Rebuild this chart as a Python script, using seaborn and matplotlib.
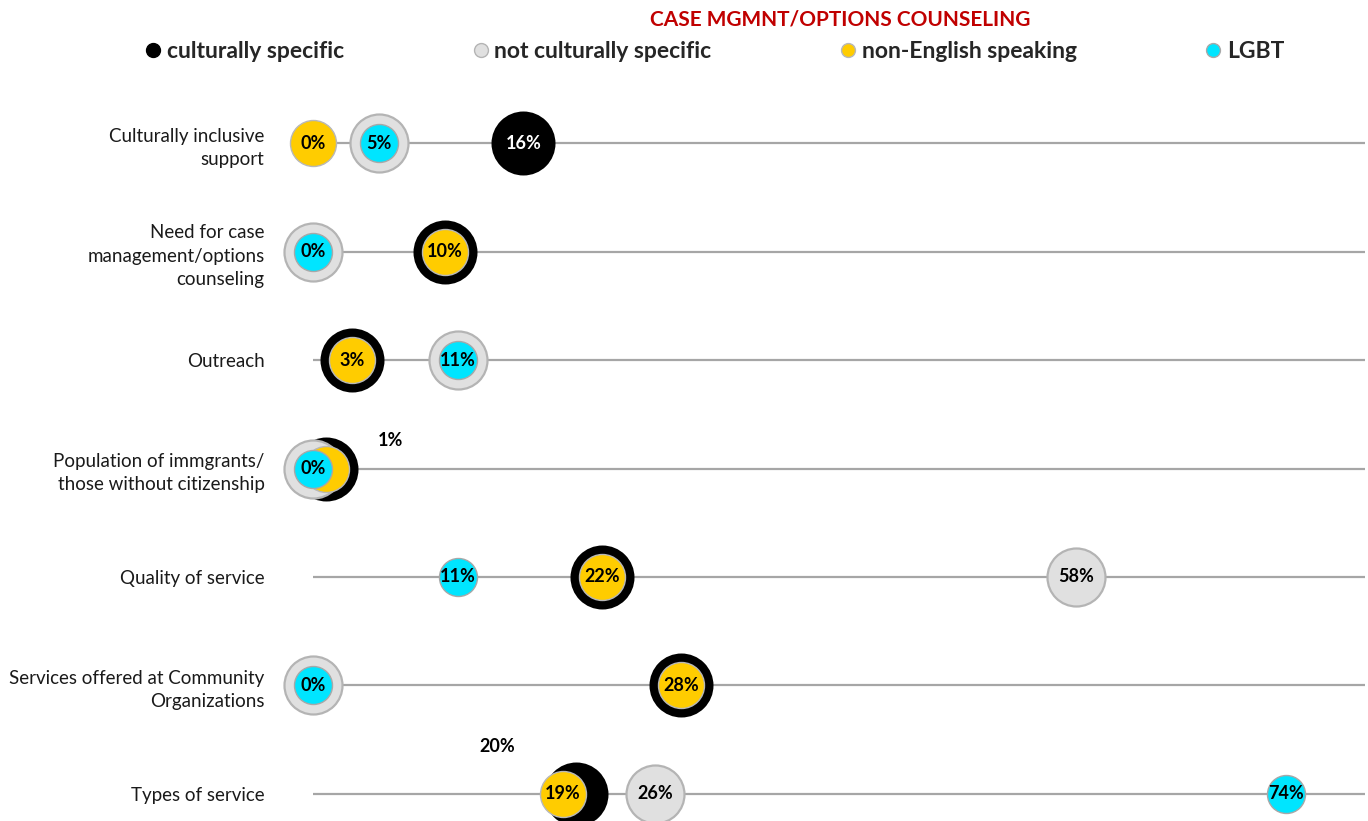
import matplotlib
matplotlib.use("Agg")
import matplotlib.pyplot as plt
import seaborn as sns
import pandas as pd
from matplotlib.lines import Line2D

sns.set_theme(style="white")
plt.rcParams['font.family'] = ['Lato', 'DejaVu Sans']

categories = [
    "Culturally inclusive\nsupport",
    "Need for case\nmanagement/options\ncounseling",
    "Outreach",
    "Population of immgrants/\nthose without citizenship",
    "Quality of service",
    "Services offered at Community\nOrganizations",
    "Types of service",
]
culturally_specific = [16, 10, 3, 1, 22, 28, 20]
not_culturally_specific = [5, 0, 11, 0, 58, 0, 26]
non_english = [0, 10, 3, 1, 22, 28, 19]
lgbt = [5, 0, 11, 0, 11, 0, 74]
series_names = ["culturally specific", "not culturally specific", "non-English speaking", "LGBT"]
title = "CASE MGMNT/OPTIONS COUNSELING"

# styles (draw order = series order)
styles = {
    "culturally specific": dict(color="#000000", edge="#000000", s=2123, lw=0.0, txt="white"),
    "not culturally specific": dict(color="#E0E0E0", edge="#B4B4B4", s=1744, lw=1.6, txt="black"),
    "non-English speaking": dict(color="#FFCC00", edge="#B8B8B8", s=1097, lw=1.0, txt="black"),
    "LGBT": dict(color="#00E5FF", edge="#A8A8A8", s=749, lw=1.0, txt="black"),
}
values = {
    "culturally specific": culturally_specific,
    "not culturally specific": not_culturally_specific,
    "non-English speaking": non_english,
    "LGBT": lgbt,
}
# labels placed outside the bubble (offset in points): (series, row) -> (dx, dy)
outside_labels = {("culturally specific", 3): (46, 20), ("culturally specific", 6): (-57, 34)}

W, H = 1368, 821
fig = plt.figure(figsize=(W / 100, H / 100), dpi=100)
ax = fig.add_axes([313 / W, 0, 1052 / W, 732 / H])
ax.set_xlim(0, 80)
ax.set_ylim(6.249, -0.498)

rows = list(range(len(categories)))
ax.hlines(rows, 0, 80, color="#A6A6A6", lw=1.6, zorder=1)

for i, name in enumerate(series_names):
    st = styles[name]
    df = pd.DataFrame({"x": values[name], "y": rows})
    sns.scatterplot(data=df, x="x", y="y", ax=ax, s=st["s"], color=st["color"],
                    edgecolor=st["edge"], linewidth=st["lw"], clip_on=False,
                    zorder=2 + i, legend=False)

# value labels
for i, name in enumerate(series_names):
    st = styles[name]
    for r in rows:
        v = values[name][r]
        key = (name, r)
        if key in outside_labels:
            dx, dy = outside_labels[key]
            ax.annotate(f"{v}%", (v, r), xytext=(dx, dy), textcoords="offset points",
                        ha="center", va="center", fontsize=13, fontweight="bold",
                        color="black", zorder=20, annotation_clip=False)
            continue
        hidden = any(abs(values[n2][r] - v) < 2 for n2 in series_names[i + 1:])
        if hidden:
            continue
        ax.text(v, r, f"{v}%", ha="center", va="center", fontsize=13,
                fontweight="bold", color=st["txt"], zorder=20, clip_on=False)

ax.set_yticks(rows)
ax.set_yticklabels(categories, fontsize=13.5, color="#1a1a1a", linespacing=1.45)
ax.tick_params(axis="y", length=0, pad=35)
ax.set_xticks([])
ax.set_xlabel("")
ax.set_ylabel("")
for sp in ax.spines.values():
    sp.set_visible(False)

fig.text(840 / W, 1 - 20 / H, title, ha="center", va="center", fontsize=15,
         fontweight="bold", color="#C00000")

handles = [Line2D([0], [0], marker="o", linestyle="", markersize=10,
                  markerfacecolor=styles[n]["color"], markeredgecolor=styles[n]["edge"],
                  markeredgewidth=1.0) for n in series_names]
leg = fig.legend(handles, series_names, loc="center", bbox_to_anchor=(713 / W, 1 - 52 / H),
                 ncol=4, frameon=False, columnspacing=5.45, handletextpad=0.1,
                 handlelength=1.0, prop=dict(weight="bold", size=16.5))

fig.savefig("out.png", dpi=100)
